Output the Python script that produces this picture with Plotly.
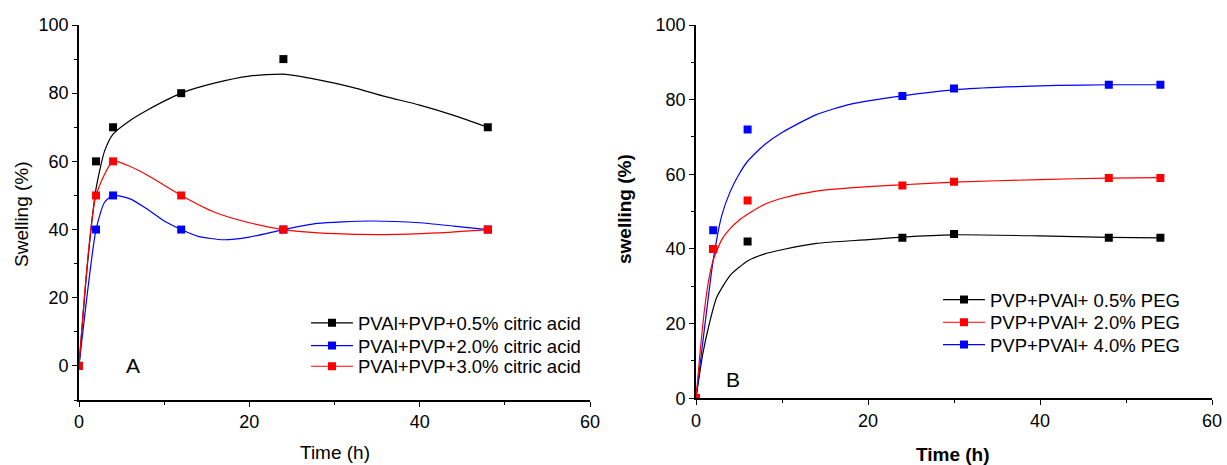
import plotly.graph_objects as go

# ---------------- Panel A data (citric acid) ----------------
time_a = [0, 2, 4, 12, 24, 48]
ca_05 = [0, 60, 70, 80, 90, 70]
ca_20 = [0, 40, 50, 40, 40, 40]
ca_30 = [0, 50, 60, 50, 40, 40]

# fitted (smoothed) curves
fit_a_t_black = [0, 1, 2, 3, 4, 6, 8, 12, 16, 20, 24, 28, 32, 36, 40, 44, 48]
fit_a_black = [0, 30, 52, 63, 68, 72, 75, 80, 83, 85, 85.6, 84, 81.8, 79, 76.5, 73.5, 70]
fit_a_t_blue = [0, 2, 3, 4, 6, 8, 10, 12, 14, 17, 20, 24, 28, 34, 40, 44, 48]
fit_a_blue = [0, 40, 48, 50, 49, 46, 42.5, 40, 38, 37, 37.8, 40, 41.8, 42.5, 42, 41, 40]
fit_a_t_red = [0, 2, 4, 6, 8, 12, 16, 20, 24, 30, 36, 42, 48]
fit_a_red = [0, 50, 60, 58.5, 56, 50, 45, 42, 40, 38.8, 38.5, 39, 40]

labels_a = ["PVAl+PVP+0.5% citric acid", "PVAl+PVP+2.0% citric acid", "PVAl+PVP+3.0% citric acid"]

# ---------------- Panel B data (PEG) ----------------
time_b = [0, 2, 6, 24, 30, 48, 54]
peg_05 = [0, 40, 42, 43, 44, 43, 43]
peg_20 = [0, 40, 53, 57, 58, 59, 59]
peg_40 = [0, 45, 72, 81, 83, 84, 84]

fit_b_t = [0, 0.8, 1.5, 2.4, 4, 6, 8, 10, 14, 20, 24, 30, 40, 48, 54]
fit_b_black = [0, 12, 19.5, 27, 33, 36.8, 38.7, 39.8, 41.5, 42.5, 43.2, 43.8, 43.5, 43.1, 43]
fit_b_t2 = [0, 0.5, 1, 1.5, 2, 3, 4, 5, 6, 8, 10, 14, 20, 24, 30, 40, 48, 54]
fit_b_red = [0, 13, 24, 32, 37, 42.5, 45.5, 47.7, 49.3, 52, 53.6, 55.5, 56.7, 57.2, 57.9, 58.6, 59, 59.1]
fit_b_t3 = [0, 1, 2, 3, 4, 5, 6, 8, 10, 14, 18, 24, 30, 36, 42, 48, 54]
fit_b_blue = [0, 19, 37, 49, 55.5, 60, 63.5, 68, 71.2, 76, 78.8, 81, 82.6, 83.4, 83.8, 84, 84]

labels_b = ["PVP+PVAl+ 0.5% PEG", "PVP+PVAl+ 2.0% PEG", "PVP+PVAl+ 4.0% PEG"]

BLACK, BLUE, RED = "#000000", "#0000ff", "#ff0000"
FONT = "Liberation Sans, Arial, sans-serif"
W, H = 1227, 465

fig = go.Figure()


def add_series(t, y, ft, fy, color, label, xa, ya, leg):
    fig.add_trace(go.Scatter(x=ft, y=fy, mode="lines", line=dict(color=color, width=1.2, shape="spline", smoothing=0.6),
                             xaxis=xa, yaxis=ya, showlegend=False, hoverinfo="skip"))
    fig.add_trace(go.Scatter(x=t, y=y, mode="markers", marker=dict(symbol="square", size=8, color=color, line=dict(width=0)),
                             xaxis=xa, yaxis=ya, showlegend=False))
    fig.add_trace(go.Scatter(x=[None], y=[None], mode="lines+markers", name=label,
                             line=dict(color=color, width=1.2),
                             marker=dict(symbol="square", size=8, color=color),
                             xaxis=xa, yaxis=ya, legend=leg))


# Panel A
add_series(time_a, ca_05, fit_a_t_black, fit_a_black, BLACK, labels_a[0], "x", "y", "legend")
add_series(time_a, ca_20, fit_a_t_blue, fit_a_blue, BLUE, labels_a[1], "x", "y", "legend2")
add_series(time_a, ca_30, fit_a_t_red, fit_a_red, RED, labels_a[2], "x", "y", "legend3")

# Panel B
add_series(time_b, peg_05, fit_b_t, fit_b_black, BLACK, labels_b[0], "x2", "y2", "legend4")
add_series(time_b, peg_40, fit_b_t3, fit_b_blue, BLUE, labels_b[2], "x2", "y2", "legend6")
add_series(time_b, peg_20, fit_b_t2, fit_b_red, RED, labels_b[1], "x2", "y2", "legend5")

axis_common = dict(showgrid=False, zeroline=False, showline=True, linecolor="black", linewidth=1.6,
                   ticks="outside", ticklen=5, tickwidth=1.4, tickcolor="black", automargin=False,
                   tickfont=dict(family=FONT, size=18, color="black"),
                   minor=dict(dtick=10, ticks="outside", ticklen=3, tickwidth=1.2, tickcolor="black"))


def leg(xpix, ypix):
    return dict(x=xpix / W, y=1 - ypix / H, xanchor="left", yanchor="middle", bgcolor="rgba(0,0,0,0)",
                itemwidth=42, font=dict(family=FONT, size=18.5, color="black"))


fig.update_layout(
    width=W, height=H,
    margin=dict(l=0, r=0, t=0, b=0, autoexpand=False),
    paper_bgcolor="white", plot_bgcolor="white",
    font=dict(family=FONT, color="black"),
    xaxis=dict(domain=[79 / W, 590 / W], range=[0, 60], tickvals=[0, 20, 40, 60], anchor="y", **axis_common),
    yaxis=dict(domain=[1 - 400 / H, 1 - 25 / H], range=[-10, 100], tickvals=[0, 20, 40, 60, 80, 100], anchor="x", **axis_common),
    xaxis2=dict(domain=[696 / W, 1212 / W], range=[0, 60], tickvals=[0, 20, 40, 60], anchor="y2", **axis_common),
    yaxis2=dict(domain=[1 - 398.3 / H, 1 - 25 / H], range=[0, 100], tickvals=[0, 20, 40, 60, 80, 100], anchor="x2", **axis_common),
    legend=leg(306, 323.3),
    legend2=leg(306, 346),
    legend3=leg(306, 366.7),
    legend4=leg(938, 300),
    legend5=leg(938, 322.7),
    legend6=leg(938, 345),
    showlegend=True,
)


def title(text, xpix, ypix, angle=0):
    return dict(text=text, x=xpix / W, y=1 - ypix / H, xref="paper", yref="paper", showarrow=False,
                xanchor="center", yanchor="middle", textangle=angle,
                font=dict(family=FONT, size=19, color="black"))


annots = [
    dict(text="A", x=6.35, y=0, xref="x", yref="y", showarrow=False, xanchor="center", yanchor="middle",
         font=dict(family=FONT, size=21, color="black")),
    dict(text="B", x=4.3, y=5.1, xref="x2", yref="y2", showarrow=False, xanchor="center", yanchor="middle",
         font=dict(family=FONT, size=21, color="black")),
    title("Time (h)", 335, 452),
    title("Swelling (%)", 21, 214, -90),
    title("<b>Time (h)</b>", 953, 454),
    title("<b>swelling (%)</b>", 624, 209, -90),
]
fig.update_layout(annotations=annots)

fig.write_html("out.html")
